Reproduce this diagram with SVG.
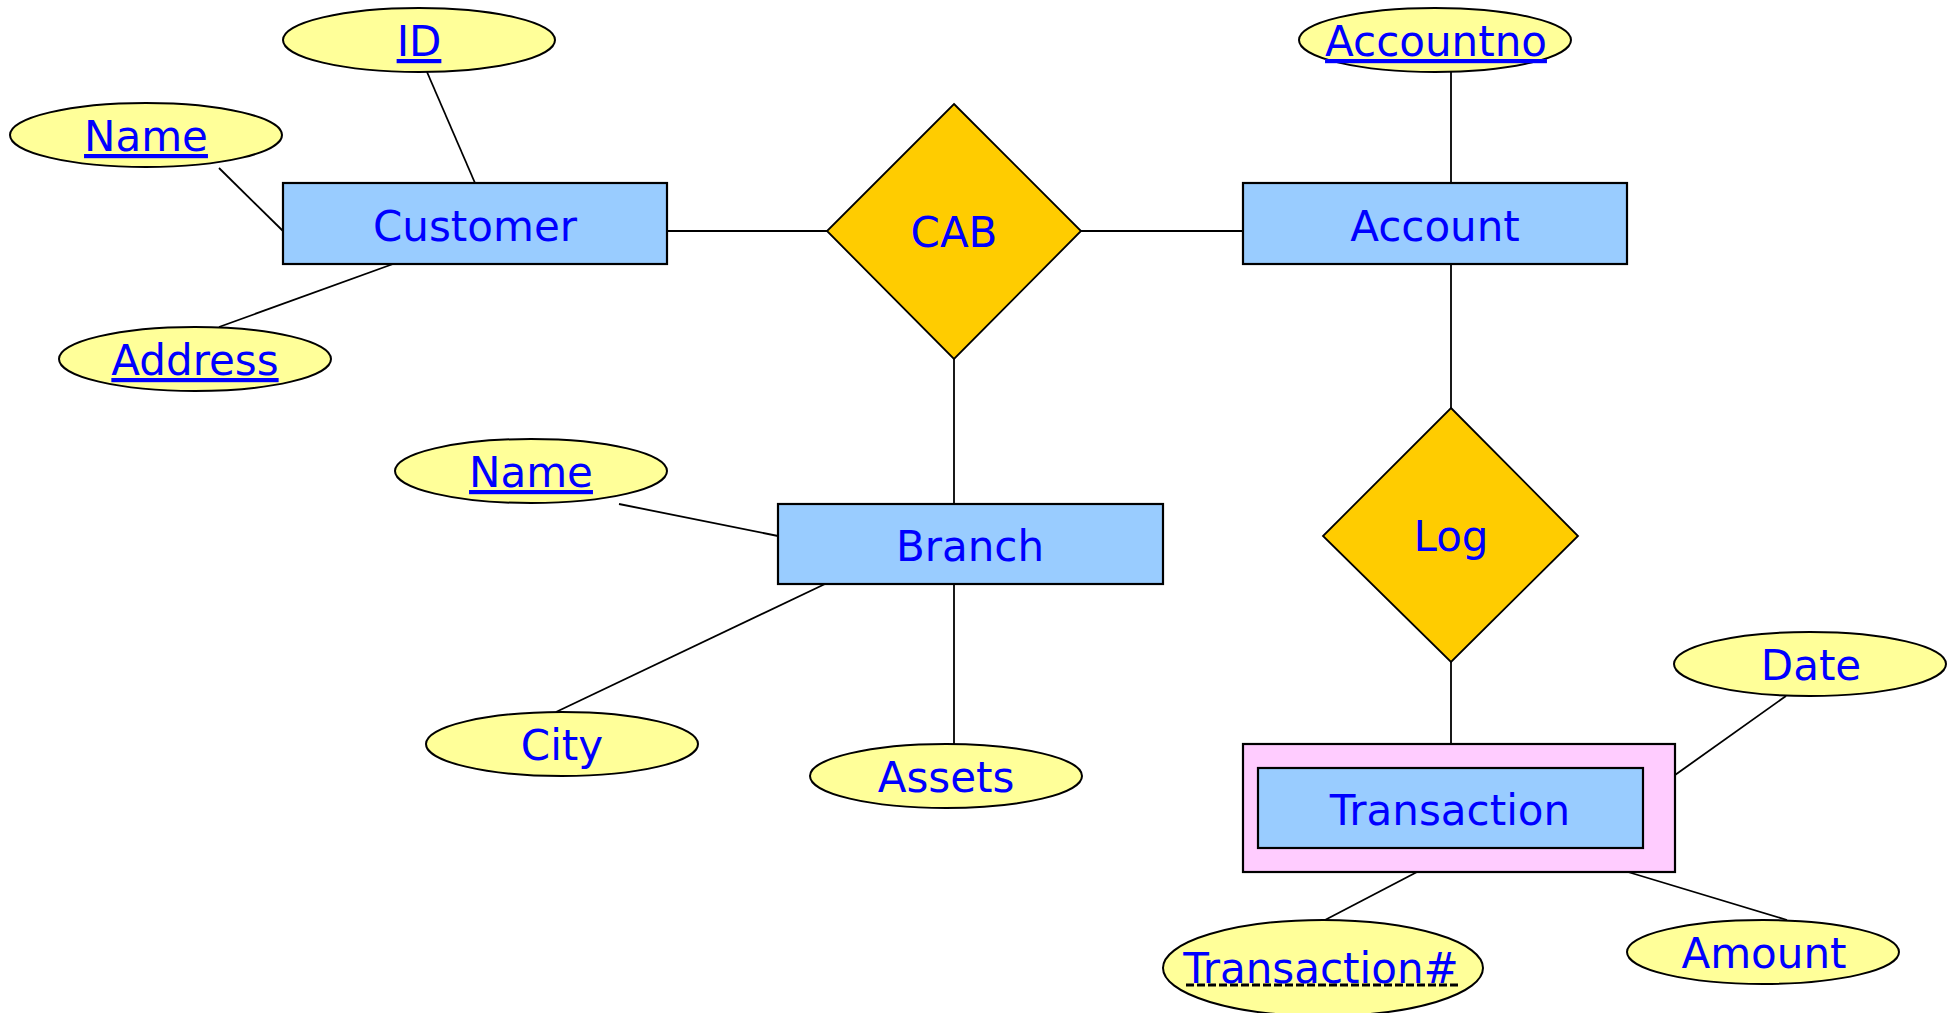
<svg xmlns="http://www.w3.org/2000/svg" width="1956" height="1013" viewBox="0 0 1956 1013">
<style>
.ent{fill:#99CCFF;stroke:#000;stroke-width:2.2}
.weak{fill:#FFCCFF;stroke:#000;stroke-width:2.2}
.rel{fill:#FFCC00;stroke:#000;stroke-width:1.8}
.att{fill:#FFFF99;stroke:#000;stroke-width:2}
.t{font-family:"DejaVu Sans",Verdana,sans-serif;font-size:42px;fill:#0000FF;text-anchor:middle}
.key{text-decoration:underline}
.c line{stroke:#000;stroke-width:1.8}
</style>
<rect width="1956" height="1013" fill="#fff"/>
<g class="c" id="connectors">
<line x1="427" y1="72" x2="475" y2="183"/>
<line x1="219" y1="168" x2="283" y2="231"/>
<line x1="219" y1="327" x2="393" y2="264"/>
<line x1="667" y1="231" x2="827" y2="231"/>
<line x1="1081" y1="231" x2="1243" y2="231"/>
<line x1="954" y1="359" x2="954" y2="504"/>
<line x1="1451" y1="72" x2="1451" y2="183"/>
<line x1="1451" y1="264" x2="1451" y2="408"/>
<line x1="1451" y1="662" x2="1451" y2="744"/>
<line x1="619" y1="504" x2="778" y2="536"/>
<line x1="556" y1="712" x2="825" y2="584"/>
<line x1="954" y1="584" x2="954" y2="744"/>
<line x1="1786" y1="696" x2="1675" y2="775"/>
<line x1="1325" y1="920" x2="1417" y2="872"/>
<line x1="1628" y1="872" x2="1787" y2="920"/>
</g>
<g id="customer"><rect class="ent" x="283" y="183" width="384" height="81"/><text class="t" x="475" y="241">Customer</text></g>
<g id="account"><rect class="ent" x="1243" y="183" width="384" height="81"/><text class="t" x="1435" y="241">Account</text></g>
<g id="branch"><rect class="ent" x="778" y="504" width="385" height="80"/><text class="t" x="970" y="561">Branch</text></g>
<g id="transaction"><rect class="weak" x="1243" y="744" width="432" height="128"/><rect class="ent" x="1258" y="768" width="385" height="80"/><text class="t" x="1450" y="825">Transaction</text></g>
<g id="cab"><polygon class="rel" points="954,104 1081,231 954,359 827,231"/><text class="t" x="954" y="247">CAB</text></g>
<g id="log"><polygon class="rel" points="1451,408 1578,536 1451,662 1323,536"/><text class="t" x="1451" y="551">Log</text></g>
<g id="attr-id"><ellipse class="att" cx="419" cy="40" rx="136" ry="32"/><text class="t key" x="419" y="56">ID</text></g>
<g id="attr-cname"><ellipse class="att" cx="146" cy="135" rx="136" ry="32"/><text class="t key" x="146" y="151">Name</text></g>
<g id="attr-address"><ellipse class="att" cx="195" cy="359" rx="136" ry="32"/><text class="t key" x="195" y="375">Address</text></g>
<g id="attr-accountno"><ellipse class="att" cx="1435" cy="40" rx="136" ry="32"/><text class="t key" x="1436" y="56">Accountno</text></g>
<g id="attr-bname"><ellipse class="att" cx="531" cy="471" rx="136" ry="32"/><text class="t key" x="531" y="487">Name</text></g>
<g id="attr-city"><ellipse class="att" cx="562" cy="744" rx="136" ry="32"/><text class="t" x="562" y="760">City</text></g>
<g id="attr-assets"><ellipse class="att" cx="946" cy="776" rx="136" ry="32"/><text class="t" x="946" y="792">Assets</text></g>
<g id="attr-date"><ellipse class="att" cx="1810" cy="664" rx="136" ry="32"/><text class="t" x="1811" y="680">Date</text></g>
<g id="attr-amount"><ellipse class="att" cx="1763" cy="952" rx="136" ry="32"/><text class="t" x="1764" y="968">Amount</text></g>
<g id="attr-transno"><ellipse class="att" cx="1323" cy="968" rx="160" ry="48"/><text class="t" x="1321" y="983">Transaction#</text><line x1="1186" y1="985" x2="1458" y2="985" stroke="#000" stroke-width="3" stroke-dasharray="8,3"/></g>
</svg>
